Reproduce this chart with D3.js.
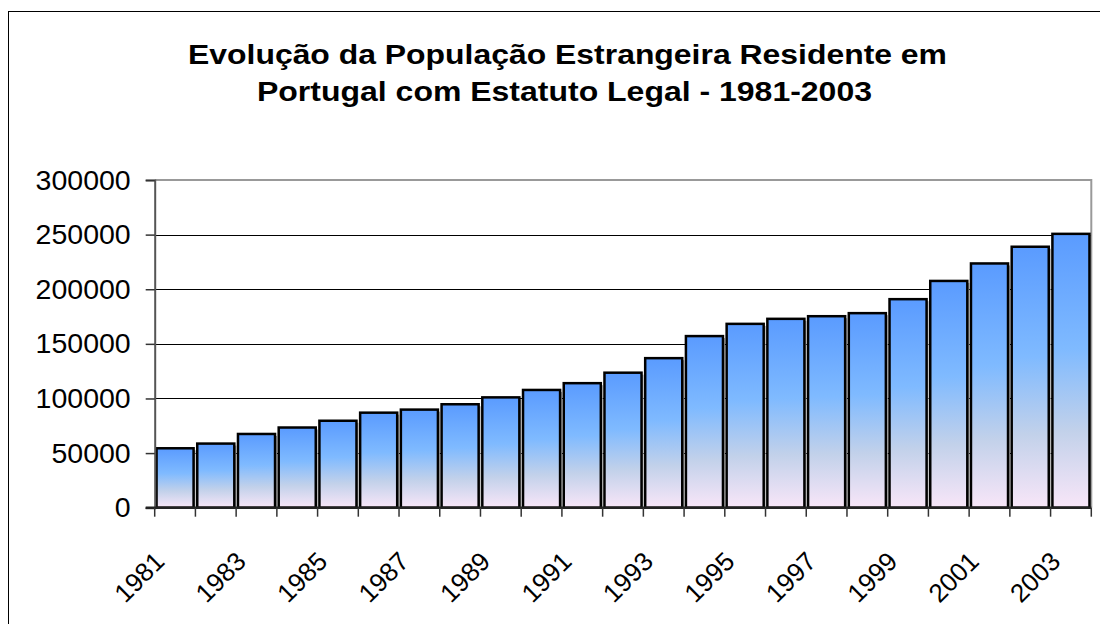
<!DOCTYPE html>
<html>
<head>
<meta charset="utf-8">
<script src="https://cdn.jsdelivr.net/npm/d3@7"></script>
<style>
  html, body { margin: 0; padding: 0; background: #fff; }
  svg { display: block; }
  text { font-family: "Liberation Sans", Arial, sans-serif; fill: #000; }
</style>
</head>
<body>
<svg id="chart" width="1100" height="624"></svg>
<script>
const years = ["1981","1982","1983","1984","1985","1986","1987","1988","1989","1990","1991","1992",
               "1993","1994","1995","1996","1997","1998","1999","2000","2001","2002","2003"];
const population = [54400, 58700, 67500, 73400, 79600, 87000, 89800, 94700, 101000, 107800, 114000, 123600,
                    136900, 157100, 168300, 172900, 175300, 178100, 190900, 207600, 223600, 238900, 250700];
const yTicks = [0, 50000, 100000, 150000, 200000, 250000, 300000];
const xLabels = ["1981","1983","1985","1987","1989","1991","1993","1995","1997","1999","2001","2003"];
const titleLines = ["Evolução da População Estrangeira Residente em", "Portugal com Estatuto Legal - 1981-2003"];

const svg = d3.select("#chart");
const plot = { left: 154.7, top: 180, right: 1091.3, bottom: 507.7 };

const defs = svg.append("defs");
const grad = defs.append("linearGradient").attr("id", "barGrad")
  .attr("x1", 0).attr("y1", 0).attr("x2", 0).attr("y2", 1);
[[0, "#5a9bff"], [0.42, "#7fbaff"], [0.72, "#c2d1ea"], [1, "#f8e6f8"]].forEach(([o, c]) =>
  grad.append("stop").attr("offset", o).attr("stop-color", c));

// outer chart border
svg.append("rect").attr("x", 8.5).attr("y", 11.5).attr("width", 1200).attr("height", 700)
  .attr("fill", "none").attr("stroke", "#000").attr("stroke-width", 1);

// title (reference is horizontally stretched)
const titleGeom = [{ cx: 567.5, y: 63.5, len: 759 }, { cx: 564.5, y: 100.5, len: 615 }];
svg.append("g").selectAll("text").data(titleLines).join("text")
  .attr("x", (d, i) => titleGeom[i].cx).attr("y", (d, i) => titleGeom[i].y)
  .attr("text-anchor", "middle")
  .attr("textLength", (d, i) => titleGeom[i].len).attr("lengthAdjust", "spacingAndGlyphs")
  .style("font-weight", "bold").style("font-size", "27px")
  .text(d => d);

const x = d3.scaleBand().domain(years).range([plot.left, plot.right]).paddingInner(0.09).paddingOuter(0.045);
const xb = d3.scaleBand().domain(years).range([plot.left, plot.right]);
const y = d3.scaleLinear().domain([0, 300000]).range([plot.bottom, plot.top]);

// gridlines
svg.append("g").selectAll("line").data(yTicks.filter(t => t > 0 && t < 300000)).join("line")
  .attr("x1", plot.left).attr("x2", plot.right)
  .attr("y1", d => Math.round(y(d)) + 0.5).attr("y2", d => Math.round(y(d)) + 0.5)
  .attr("stroke", "#000").attr("stroke-width", 1);

// plot frame (top and right)
svg.append("path")
  .attr("d", `M${plot.left},${plot.top} H${plot.right} V${plot.bottom}`)
  .attr("fill", "none").attr("stroke", "#999").attr("stroke-width", 2);

// bar shadows
svg.append("g").selectAll("rect").data(population).join("rect")
  .attr("x", (d, i) => x(years[i]) + 2).attr("y", d => y(d) + 2)
  .attr("width", x.bandwidth()).attr("height", d => plot.bottom - y(d) - 2)
  .attr("fill", "#a0a0a0");

// bars
svg.append("g").selectAll("rect").data(population).join("rect")
  .attr("x", (d, i) => x(years[i])).attr("y", d => y(d))
  .attr("width", x.bandwidth()).attr("height", d => plot.bottom - y(d))
  .attr("fill", "url(#barGrad)").attr("stroke", "#000").attr("stroke-width", 2.5);

// y axis
const yAxis = svg.append("g").attr("transform", `translate(${plot.left},0)`)
  .call(d3.axisLeft(y).tickValues(yTicks).tickFormat(d3.format("d")).tickSize(9).tickPadding(15));
yAxis.select(".domain").attr("stroke", "#555").attr("stroke-width", 2);
yAxis.selectAll(".tick line").attr("stroke", "#333").attr("stroke-width", 1.5);
yAxis.selectAll(".tick text").style("font-size", "28.5px").attr("font-family", null);

// x axis baseline + ticks at band boundaries
svg.append("line").attr("x1", plot.left - 9).attr("x2", plot.right)
  .attr("y1", plot.bottom).attr("y2", plot.bottom).attr("stroke", "#222").attr("stroke-width", 2.5);
const bounds = years.map(d => xb(d)).concat([plot.right]);
svg.append("g").selectAll("line").data(bounds).join("line")
  .attr("x1", d => d).attr("x2", d => d).attr("y1", plot.bottom).attr("y2", plot.bottom + 9)
  .attr("stroke", "#333").attr("stroke-width", 1.5);

// x labels
svg.append("g").selectAll("text").data(xLabels).join("text")
  .attr("transform", d => `translate(${xb(d) + xb.bandwidth() / 2 - 9},${563}) rotate(-45)`)
  .attr("text-anchor", "end").style("font-size", "26px").text(d => d);
</script>
</body>
</html>
